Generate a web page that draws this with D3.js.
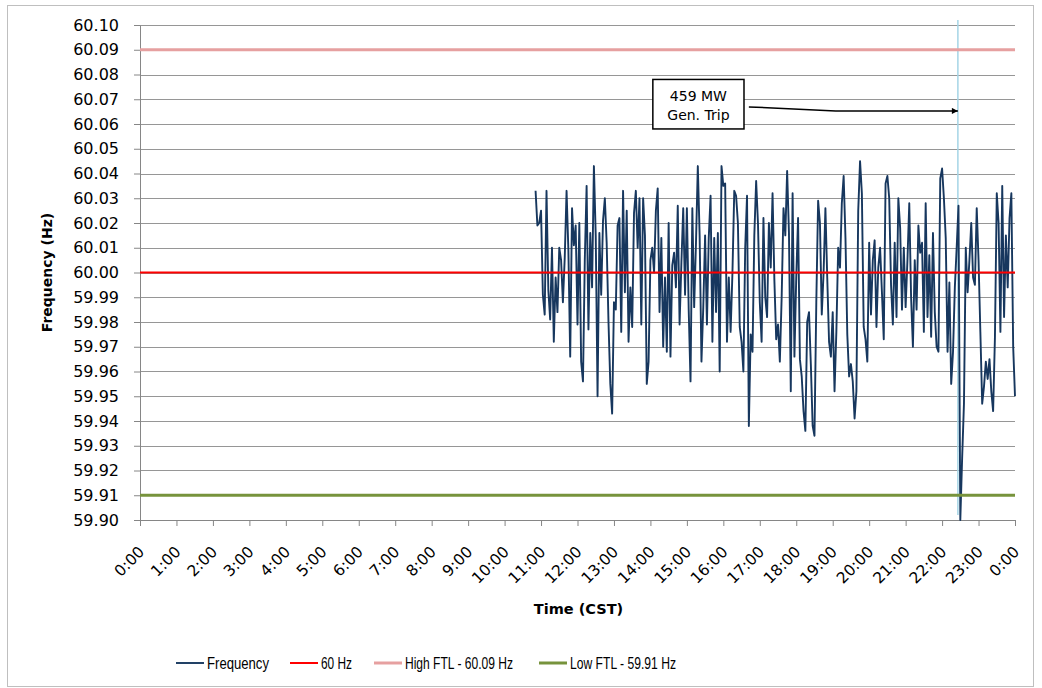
<!DOCTYPE html>
<html><head><meta charset="utf-8">
<script src="https://cdn.jsdelivr.net/npm/d3@7"></script>
<style>body{margin:0;background:#fff} svg{display:block}</style>
</head><body><svg id="c" width="1042" height="688"></svg>
<script>
// ---------- data ----------
const startMinute = 651;   // 10:51 CST
const stepMinutes = 3;
const frequency = [
 60.033,60.019,60.020,60.025,59.991,59.983,60.033,59.993,59.981,60.010,59.972,59.998,59.984,60.010,60.005,59.988,60.006,60.033,60.009,59.966,60.026,60.011,60.019,59.979,60.020,59.964,59.956,60.005,60.035,59.977,60.016,59.994,60.043,60.015,59.950,60.016,59.991,60.021,60.030,60.012,59.980,59.955,59.943,59.988,59.985,60.019,60.022,59.976,60.033,59.992,60.025,
 59.972,59.994,59.978,60.024,60.033,60.010,60.030,59.979,60.030,60.015,59.955,59.964,60.005,60.010,60.000,60.025,60.034,59.984,60.014,59.970,59.998,59.968,60.020,59.966,60.003,60.008,59.994,60.027,59.979,60.004,60.026,59.991,60.026,59.985,59.956,60.026,59.986,60.012,60.043,60.015,59.964,59.986,60.015,59.979,60.014,60.031,59.972,60.014,59.984,60.016,59.960,60.043,60.035,
 60.036,59.972,59.998,59.976,60.000,60.033,60.031,60.020,59.978,59.972,59.960,60.010,60.031,59.938,59.975,59.968,60.015,60.037,60.020,59.988,59.972,60.022,59.990,59.982,60.020,60.002,60.032,59.997,59.973,59.979,59.964,59.990,60.026,60.015,60.041,60.016,59.952,60.032,59.966,59.998,60.022,59.965,59.958,59.944,59.936,59.980,59.984,59.963,59.938,59.934,59.988,60.029,60.020,59.983,
 60.000,60.026,59.998,59.972,59.966,59.984,59.952,59.976,60.010,60.002,60.028,60.039,60.014,59.975,59.958,59.963,59.956,59.941,59.952,60.025,60.045,60.032,59.978,59.973,59.964,60.012,59.983,60.005,60.013,59.978,60.002,60.010,59.992,59.973,60.036,60.039,60.030,59.995,59.979,60.012,59.982,60.030,60.018,59.985,60.010,59.986,60.005,60.028,59.990,59.970,60.005,59.985,60.019,
 60.008,60.012,59.976,60.028,59.982,60.007,59.974,60.016,59.984,59.970,59.968,60.038,60.042,60.030,60.014,59.968,59.996,59.955,59.968,59.994,60.010,60.027,59.900,59.925,59.947,60.010,59.992,60.005,60.020,59.998,59.995,60.026,60.005,59.976,59.947,59.954,59.964,59.957,59.965,59.952,59.944,59.974,60.032,60.020,59.976,60.035,59.982,60.015,59.994,60.022,60.032,59.970,59.950
];
const nominalHz = 60.00;
const highFTL = 60.09;
const lowFTL = 59.91;
const yTicks = [59.90,59.91,59.92,59.93,59.94,59.95,59.96,59.97,59.98,59.99,60.00,60.01,60.02,60.03,60.04,60.05,60.06,60.07,60.08,60.09,60.10];
const xTickMinutes = [0,60,120,180,240,300,360,420,480,540,600,660,720,780,840,900,960,1020,1080,1140,1200,1260,1320,1380,1440];
const xTickLabels = ["0:00","1:00","2:00","3:00","4:00","5:00","6:00","7:00","8:00","9:00","10:00","11:00","12:00","13:00","14:00","15:00","16:00","17:00","18:00","19:00","20:00","21:00","22:00","23:00","0:00"];
const tripMinute = 1346;            // 22:26
const tripSpan = [59.902, 60.102];
const annotationText = ["459 MW", "Gen. Trip"];
const annotationBox = {m0: 844, m1: 994, v0: 60.058, v1: 60.078};
const arrowPath = [[1002, 60.0669], [1145, 60.0653], [1346, 60.0653]];
const legendLabels = ["Frequency", "60 Hz", "High FTL - 60.09 Hz", "Low FTL - 59.91 Hz"];
const legendColors = ["#17375E", "#FF0000", "#E6A0A0", "#77933C"];
const legendWidths = [1.9, 2, 3, 3];
const legendTextLen = [62, 31, 108, 106];

// ---------- drawing ----------
const svg = d3.select("#c");
const L = 140, R = 1015, T = 25, B = 520;
const x = d3.scaleLinear().domain([0, 1440]).range([L, R]);
const y = d3.scaleLinear().domain([59.90, 60.10]).range([B, T]);

svg.append("rect").attr("x", 7.5).attr("y", 5.5).attr("width", 1026).attr("height", 681)
  .attr("fill", "#fff").attr("stroke", "#BFBFBF").attr("stroke-width", 1);

// grid
svg.append("g").selectAll("line").data(yTicks.slice(1)).join("line")
  .attr("x1", L).attr("x2", R)
  .attr("y1", d => Math.round(y(d)) + 0.5).attr("y2", d => Math.round(y(d)) + 0.5)
  .attr("stroke", "#969696").attr("stroke-width", 1.2);

// axes
const yAxis = svg.append("g").attr("transform", `translate(${L},0)`)
  .call(d3.axisLeft(y).tickValues(yTicks).tickFormat(d3.format(".2f")).tickSize(6).tickSizeOuter(0).tickPadding(15));
yAxis.selectAll("text").attr("font-family", "DejaVu Sans").attr("font-size", 16).attr("fill", "#000");
yAxis.selectAll("line,path").attr("stroke", "#868686");

const xAxis = svg.append("g").attr("transform", `translate(0,${B})`)
  .call(d3.axisBottom(x).tickValues(xTickMinutes).tickFormat((d, i) => xTickLabels[i]).tickSize(6).tickSizeOuter(0));
xAxis.selectAll("line,path").attr("stroke", "#868686");
xAxis.selectAll("text")
  .attr("font-family", "DejaVu Sans").attr("font-size", 15.5).attr("fill", "#000")
  .attr("text-anchor", "end").attr("y", 0).attr("dy", "0.35em")
  .attr("transform", "translate(1,29) rotate(-45)");

// trip marker
svg.append("line")
  .attr("x1", x(tripMinute)).attr("x2", x(tripMinute))
  .attr("y1", y(tripSpan[1])).attr("y2", y(tripSpan[0]))
  .attr("stroke", "#A5D5E6").attr("stroke-width", 1.5);

// frequency series
const freqData = frequency.map((v, i) => [startMinute + i * stepMinutes, v]);
svg.append("path").datum(freqData)
  .attr("fill", "none").attr("stroke", "#17375E").attr("stroke-width", 1.9).attr("stroke-linejoin", "round")
  .attr("d", d3.line().x(d => x(d[0])).y(d => y(d[1])));

// reference lines
[[nominalHz, 1], [highFTL, 2], [lowFTL, 3]].forEach(([v, k]) => {
  svg.append("line").attr("x1", L).attr("x2", R).attr("y1", y(v)).attr("y2", y(v))
    .attr("stroke", legendColors[k]).attr("stroke-width", legendWidths[k]);
});

// annotation
svg.append("defs").append("marker").attr("id", "ah").attr("viewBox", "0 0 10 10")
  .attr("refX", 10).attr("refY", 5).attr("markerWidth", 8).attr("markerHeight", 6)
  .attr("markerUnits", "userSpaceOnUse").attr("orient", "auto")
  .append("path").attr("d", "M0,0L10,5L0,10z").attr("fill", "#000");
svg.append("path").datum(arrowPath)
  .attr("fill", "none").attr("stroke", "#000").attr("stroke-width", 1.5).attr("marker-end", "url(#ah)")
  .attr("d", d3.line().x(d => x(d[0])).y(d => y(d[1])));
svg.append("rect")
  .attr("x", x(annotationBox.m0)).attr("y", y(annotationBox.v1))
  .attr("width", x(annotationBox.m1) - x(annotationBox.m0)).attr("height", y(annotationBox.v0) - y(annotationBox.v1))
  .attr("fill", "#fff").attr("stroke", "#000").attr("stroke-width", 1.5);
svg.append("g").selectAll("text").data(annotationText).join("text")
  .attr("x", (x(annotationBox.m0) + x(annotationBox.m1)) / 2)
  .attr("y", (d, i) => y(annotationBox.v1) + 22 + i * 19)
  .attr("text-anchor", "middle").attr("font-family", "DejaVu Sans").attr("font-size", 14).attr("fill", "#000")
  .text(d => d);

// axis titles
svg.append("text").attr("x", (L + R) / 2 + 1).attr("y", 614).attr("text-anchor", "middle")
  .attr("font-family", "DejaVu Sans").attr("font-weight", "bold").attr("font-size", 14.5).text("Time (CST)");
svg.append("text").attr("transform", `translate(52,${(T + B) / 2}) rotate(-90)`).attr("text-anchor", "middle")
  .attr("font-family", "DejaVu Sans").attr("font-weight", "bold").attr("font-size", 14).text("Frequency (Hz)");

// legend
const legendX = [176, 290, 374, 539];
const lg = svg.append("g").selectAll("g").data(legendLabels).join("g")
  .attr("transform", (d, i) => `translate(${legendX[i]},663)`);
lg.append("line").attr("x1", 0).attr("x2", 28).attr("y1", 0).attr("y2", 0)
  .attr("stroke", (d, i) => legendColors[i]).attr("stroke-width", (d, i) => legendWidths[i]);
lg.append("text").attr("x", 31).attr("y", 6)
  .attr("font-family", "'Liberation Sans', sans-serif").attr("font-size", 16.5).attr("fill", "#000")
  .attr("textLength", (d, i) => legendTextLen[i]).attr("lengthAdjust", "spacingAndGlyphs")
  .text(d => d);
</script></body></html>
